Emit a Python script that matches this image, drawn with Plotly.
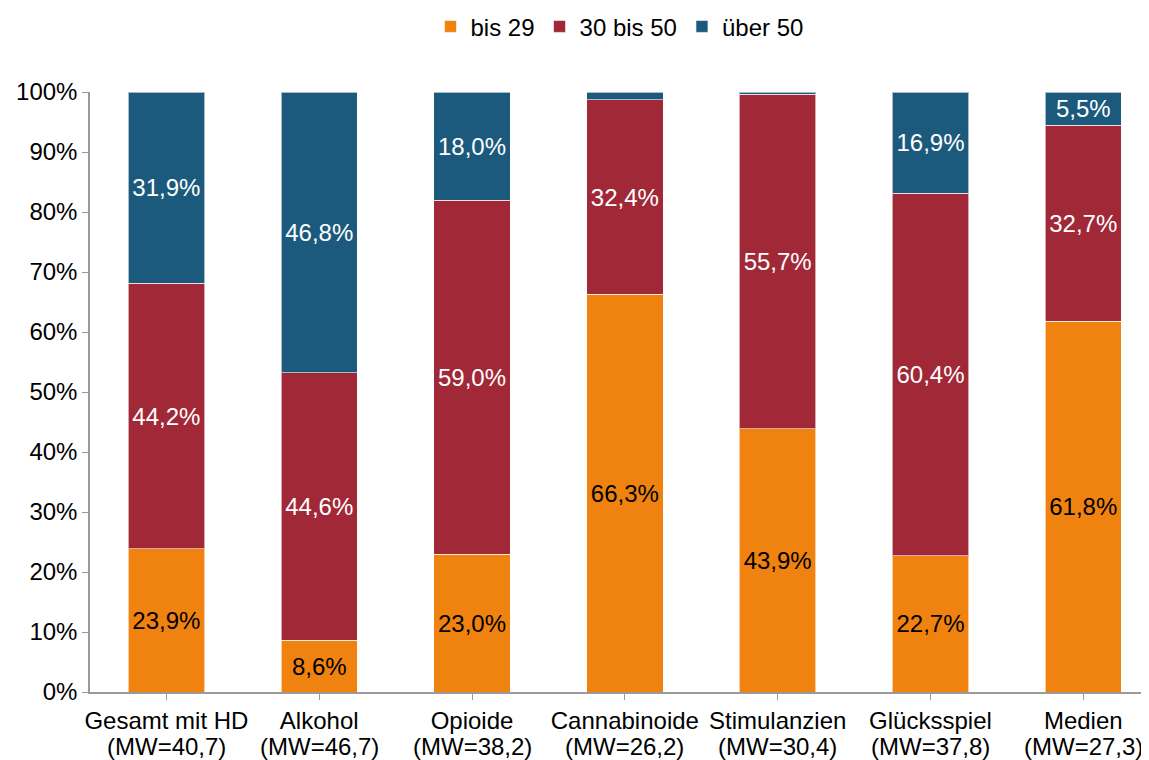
import plotly.graph_objects as go

categories = ["Gesamt mit HD", "Alkohol", "Opioide", "Cannabinoide",
              "Stimulanzien", "Glücksspiel", "Medien"]
mean_age = ["(MW=40,7)", "(MW=46,7)", "(MW=38,2)", "(MW=26,2)",
            "(MW=30,4)", "(MW=37,8)", "(MW=27,3)"]
bis29 = [23.9, 8.6, 23.0, 66.3, 43.9, 22.7, 61.8]
mid30_50 = [44.2, 44.6, 59.0, 32.4, 55.7, 60.4, 32.7]
ueber50 = [31.9, 46.8, 18.0, 1.3, 0.4, 16.9, 5.5]
y_ticks = [0, 10, 20, 30, 40, 50, 60, 70, 80, 90, 100]

def labels(vals):
    return [("%.1f%%" % v).replace(".", ",") if v >= 3 else "" for v in vals]

series = [("bis 29", bis29, "#F0820F", "black"),
          ("30 bis 50", mid30_50, "#A02837", "white"),
          ("über 50", ueber50, "#1C5A7D", "white")]

FONT = "Liberation Sans, Arial"
fig = go.Figure()
xs = list(range(len(categories)))
for name, vals, color, tcol in series:
    fig.add_trace(go.Bar(
        x=xs, y=vals, name=name,
        marker=dict(color=color, line=dict(color="rgba(255,255,255,0.6)", width=1)),
        text=labels(vals), textposition="inside", insidetextanchor="middle",
        textfont=dict(color=tcol, size=24, family=FONT),
        width=0.5, hoverinfo="skip"))

# second line of each category label (tighter line spacing than <br>)
for i, mw in enumerate(mean_age):
    fig.add_annotation(x=xs[i], xref="x", y=0, yref="paper", yanchor="top",
                       yshift=-39, text=mw, showarrow=False,
                       font=dict(size=24, family=FONT, color="black"))

# page body has an 8px margin: figure is offset by 8px in x and y
fig.update_layout(
    barmode="stack", width=1141, height=752,
    paper_bgcolor="white", plot_bgcolor="white",
    margin=dict(l=82, r=0, t=84, b=68),
    font=dict(family=FONT, size=24, color="black"),
    uniformtext=dict(mode=False),
    legend=dict(orientation="h", x=0.5, xanchor="center", y=0.975, yanchor="middle",
                yref="container", font=dict(size=24), itemwidth=30,
                traceorder="normal"),
    showlegend=True,
)
fig.update_xaxes(range=[-0.5, 6.43], tickmode="array", tickvals=xs, ticktext=categories,
                 showline=True, linecolor="#9a9a9a", linewidth=1.5, ticks="outside",
                 tickcolor="#9a9a9a", ticklen=6, tickson="boundaries", showgrid=False,
                 tickfont=dict(size=24), automargin=False)
fig.update_yaxes(range=[0, 100], tickvals=y_ticks, ticktext=[f"{t}%" for t in y_ticks],
                 showline=True, linecolor="#9a9a9a", linewidth=1.5, ticks="outside",
                 tickcolor="#9a9a9a", ticklen=6, showgrid=False, zeroline=False,
                 tickfont=dict(size=24), automargin=False)
fig.write_html("out.html")
